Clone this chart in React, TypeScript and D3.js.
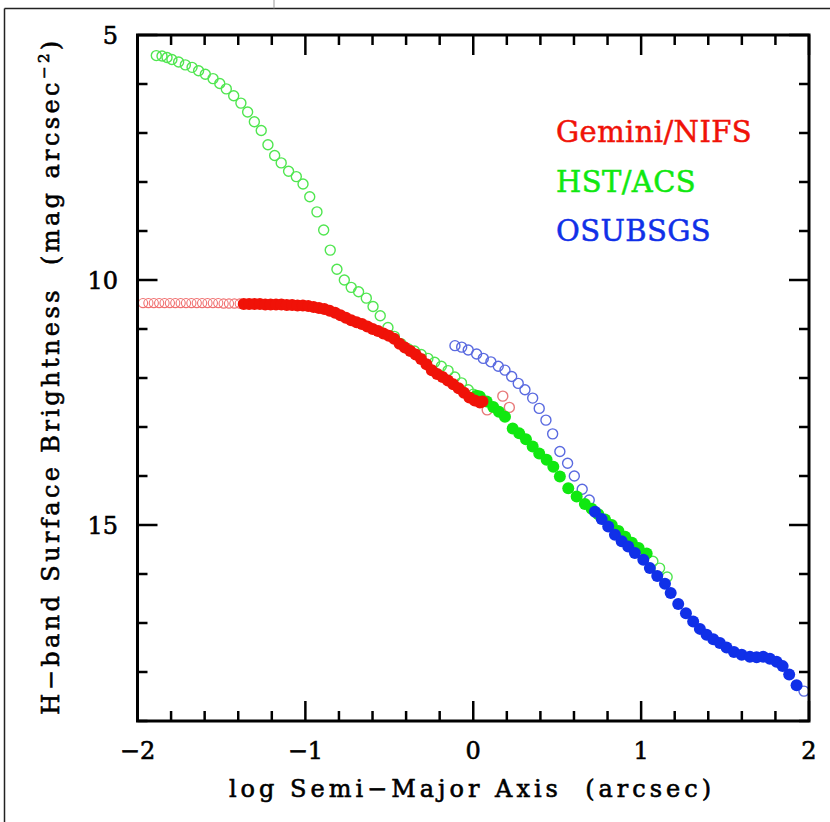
import React from "react";
import * as d3 from "d3";

// ---- Data ----
// Gemini/NIFS open (unused / excluded points)
const geminiOpenX = [-1.967, -1.935, -1.903, -1.871, -1.839, -1.807, -1.775, -1.743, -1.711, -1.679, -1.647, -1.615, -1.583, -1.551, -1.519, -1.487, -1.455, -1.423, -1.391];
const geminiOpenY = [10.47, 10.47, 10.47, 10.47, 10.47, 10.47, 10.47, 10.47, 10.47, 10.47, 10.47, 10.47, 10.47, 10.47, 10.47, 10.48, 10.48, 10.48, 10.48];
const geminiOpenExtraX = [0.083, 0.176, 0.215];
const geminiOpenExtraY = [12.65, 12.37, 12.60];

// Gemini/NIFS filled
const geminiX = [-1.367, -1.335, -1.303, -1.271, -1.239, -1.207, -1.175, -1.143, -1.111, -1.079, -1.047, -1.015, -0.983, -0.951, -0.919, -0.887, -0.855, -0.823, -0.791, -0.759, -0.727, -0.695, -0.663, -0.631, -0.599, -0.567, -0.535, -0.503, -0.471, -0.439, -0.407, -0.375, -0.343, -0.311, -0.279, -0.247, -0.215, -0.183, -0.151, -0.119, -0.087, -0.055, -0.023, 0.009, 0.040, 0.055];
const geminiY = [10.49, 10.49, 10.49, 10.49, 10.50, 10.50, 10.50, 10.50, 10.51, 10.51, 10.52, 10.52, 10.53, 10.55, 10.57, 10.59, 10.63, 10.67, 10.72, 10.77, 10.82, 10.86, 10.90, 10.95, 11.00, 11.04, 11.09, 11.14, 11.20, 11.30, 11.38, 11.45, 11.52, 11.61, 11.72, 11.84, 11.92, 11.98, 12.05, 12.13, 12.21, 12.30, 12.40, 12.46, 12.50, 12.48];

// HST/ACS open
const hstOpenX = [-1.888, -1.854, -1.824, -1.795, -1.755, -1.715, -1.675, -1.636, -1.596, -1.550, -1.510, -1.471, -1.427, -1.384, -1.344, -1.304, -1.263, -1.223, -1.183, -1.144, -1.100, -1.054, -1.014, -0.974, -0.931, -0.891, -0.852, -0.812, -0.768, -0.727, -0.683, -0.637, -0.597, -0.554, -0.508, -0.470, -0.430, -0.390, -0.350, -0.310, -0.270, -0.230, -0.190, -0.150, -0.110, -0.070, -0.030, 0.000, 1.070, 1.110, 1.155];
const hstOpenY = [5.42, 5.43, 5.46, 5.50, 5.55, 5.61, 5.66, 5.73, 5.80, 5.89, 5.99, 6.10, 6.24, 6.39, 6.57, 6.77, 6.95, 7.24, 7.46, 7.61, 7.78, 7.89, 8.04, 8.30, 8.61, 8.98, 9.39, 9.78, 10.00, 10.15, 10.24, 10.37, 10.54, 10.73, 10.97, 11.15, 11.30, 11.40, 11.45, 11.52, 11.60, 11.68, 11.76, 11.85, 11.98, 12.10, 12.24, 12.33, 15.74, 15.88, 16.06];

// HST/ACS filled
const hstX = [0.020, 0.040, 0.080, 0.119, 0.153, 0.189, 0.235, 0.274, 0.314, 0.354, 0.393, 0.437, 0.477, 0.516, 0.566, 0.616, 0.665, 0.705, 0.745, 0.785, 0.825, 0.865, 0.905, 0.945, 0.985, 1.033];
const hstY = [12.36, 12.38, 12.48, 12.59, 12.69, 12.79, 13.03, 13.13, 13.25, 13.40, 13.54, 13.67, 13.81, 14.01, 14.25, 14.42, 14.57, 14.67, 14.78, 14.89, 15.00, 15.12, 15.24, 15.36, 15.47, 15.58];

// OSUBSGS open
const osuOpenX = [-0.109, -0.069, -0.030, 0.020, 0.060, 0.105, 0.149, 0.189, 0.229, 0.268, 0.308, 0.354, 0.393, 0.433, 0.473, 0.516, 0.562, 0.602, 0.649, 0.691, 1.970];
const osuOpenY = [11.34, 11.37, 11.43, 11.51, 11.60, 11.67, 11.76, 11.84, 11.97, 12.11, 12.24, 12.41, 12.62, 12.86, 13.14, 13.50, 13.74, 14.00, 14.27, 14.49, 18.39];

// OSUBSGS filled
const osuX = [0.725, 0.765, 0.804, 0.844, 0.884, 0.923, 0.963, 1.013, 1.052, 1.096, 1.142, 1.176, 1.221, 1.267, 1.310, 1.350, 1.390, 1.430, 1.469, 1.509, 1.553, 1.599, 1.648, 1.688, 1.727, 1.767, 1.807, 1.843, 1.882, 1.926];
const osuY = [14.73, 14.88, 15.03, 15.20, 15.33, 15.44, 15.57, 15.71, 15.88, 16.04, 16.20, 16.39, 16.61, 16.80, 16.97, 17.12, 17.24, 17.33, 17.41, 17.50, 17.59, 17.65, 17.69, 17.70, 17.69, 17.73, 17.79, 17.88, 18.05, 18.27];

const xTicks = [-2, -1, 0, 1, 2];
const yTicks = [5, 10, 15];
const legendLabels = ["Gemini/NIFS", "HST/ACS", "OSUBSGS"];

const RED = "#f01208";
const GREEN = "#10e810";
const BLUE = "#1030e8";

export default function App() {
  const L = 137.5, R = 809, T = 35, B = 721;
  const x = d3.scaleLinear().domain([-2, 2]).range([L, R]);
  const y = d3.scaleLinear().domain([5, 19]).range([T, B]);

  const xMinor = d3.range(-2, 2.0001, 0.2).map((v) => Math.round(v * 10) / 10);
  const yMinor = d3.range(5, 19.0001, 1);
  const isMajorX = (v: number) => Math.abs(v - Math.round(v)) < 1e-6;
  const isMajorY = (v: number) => v % 5 === 0;

  const font = "'DejaVu Serif', serif";
  const zip = (xs: number[], ys: number[]) => xs.map((v, i) => [v, ys[i]] as [number, number]);

  const openCircles = (pts: [number, number][], color: string, r: number, key: string, sw = 1.4) =>
    pts.map((p, i) => (
      <circle key={key + i} cx={x(p[0])} cy={y(p[1])} r={r} fill="none" stroke={color} strokeWidth={sw} />
    ));
  const filledCircles = (pts: [number, number][], color: string, r: number, key: string) =>
    pts.map((p, i) => <circle key={key + i} cx={x(p[0])} cy={y(p[1])} r={r} fill={color} />);

  const textStroke = { stroke: "#000", strokeWidth: 0.6 };

  return (
    <svg width={830} height={822} style={{ position: "absolute", left: 0, top: 0, background: "#fff" }}>
      <rect x={0} y={0} width={830} height={822} fill="#fff" />
      {/* outer frame fragments */}
      <line x1={4.5} y1={8.5} x2={830} y2={8.5} stroke="#222" strokeWidth={1.5} />
      <line x1={4.5} y1={8.5} x2={4.5} y2={822} stroke="#222" strokeWidth={1.5} />
      <line x1={274} y1={0} x2={274} y2={8.5} stroke="#999" strokeWidth={1} />

      {/* data: open circles */}
      {openCircles(zip(geminiOpenX, geminiOpenY), "#f07070", 4.6, "go", 1.1)}
      {openCircles(zip(hstOpenX, hstOpenY), "#50e650", 5, "ho")}
      {openCircles(zip(osuOpenX, osuOpenY), "#5a6ae0", 5, "oo")}
      {openCircles(zip(geminiOpenExtraX, geminiOpenExtraY), "#e87a7a", 5, "ge")}
      {/* filled */}
      {filledCircles(zip(hstX, hstY), GREEN, 6, "hf")}
      {filledCircles(zip(geminiX, geminiY), RED, 6, "gf")}
      {filledCircles(zip(osuX, osuY), BLUE, 6, "of")}

      {/* axes ticks */}
      <g stroke="#000" strokeWidth={2.5}>
        {xMinor.map((v) => {
          const len = isMajorX(v) ? 20 : 10;
          return (
            <g key={"xt" + v}>
              <line x1={x(v)} x2={x(v)} y1={B} y2={B - len} />
              <line x1={x(v)} x2={x(v)} y1={T} y2={T + len} />
            </g>
          );
        })}
        {yMinor.map((v) => {
          const len = isMajorY(v) ? 20 : 10;
          return (
            <g key={"yt" + v}>
              <line x1={L} x2={L + len} y1={y(v)} y2={y(v)} />
              <line x1={R} x2={R - len} y1={y(v)} y2={y(v)} />
            </g>
          );
        })}
      </g>
      <rect x={L} y={T} width={R - L} height={B - T} fill="none" stroke="#000" strokeWidth={3} />

      {/* tick labels */}
      {xTicks.map((v) => (
        <text key={"xl" + v} x={x(v)} y={759} textAnchor="middle" fontFamily={font} fontSize={24} fill="#000" {...textStroke}>
          {v < 0 ? "\u2212" + Math.abs(v) : String(v)}
        </text>
      ))}
      {yTicks.map((v) => (
        <text key={"yl" + v} x={118} y={y(v) + 8.5} textAnchor="end" fontFamily={font} fontSize={24} fill="#000" {...textStroke}>
          {v}
        </text>
      ))}

      {/* axis titles */}
      <text x={472} y={797} textAnchor="middle" fontFamily={font} fontSize={24} letterSpacing={4} fill="#000" xmlSpace="preserve" {...textStroke}>
        {"log Semi\u2212Major Axis  (arcsec)"}
      </text>
      <text transform="translate(59,376) rotate(-90)" textAnchor="middle" fontFamily={font} fontSize={24} letterSpacing={3.4} fill="#000" xmlSpace="preserve" {...textStroke}>
        {"H\u2212band Surface Brightness  (mag arcsec"}
        <tspan fontSize={15} dy={-10}>{"\u22122"}</tspan>
        <tspan dy={10}>{")"}</tspan>
      </text>

      {/* legend */}
      {legendLabels.map((lab, i) => {
        const c = [RED, GREEN, BLUE][i];
        return (
          <text key={lab} x={556} y={142 + i * 49.5} fontFamily={font} fontSize={29} letterSpacing={0.4} fill={c} stroke={c} strokeWidth={0.5}>
            {lab}
          </text>
        );
      })}
    </svg>
  );
}
